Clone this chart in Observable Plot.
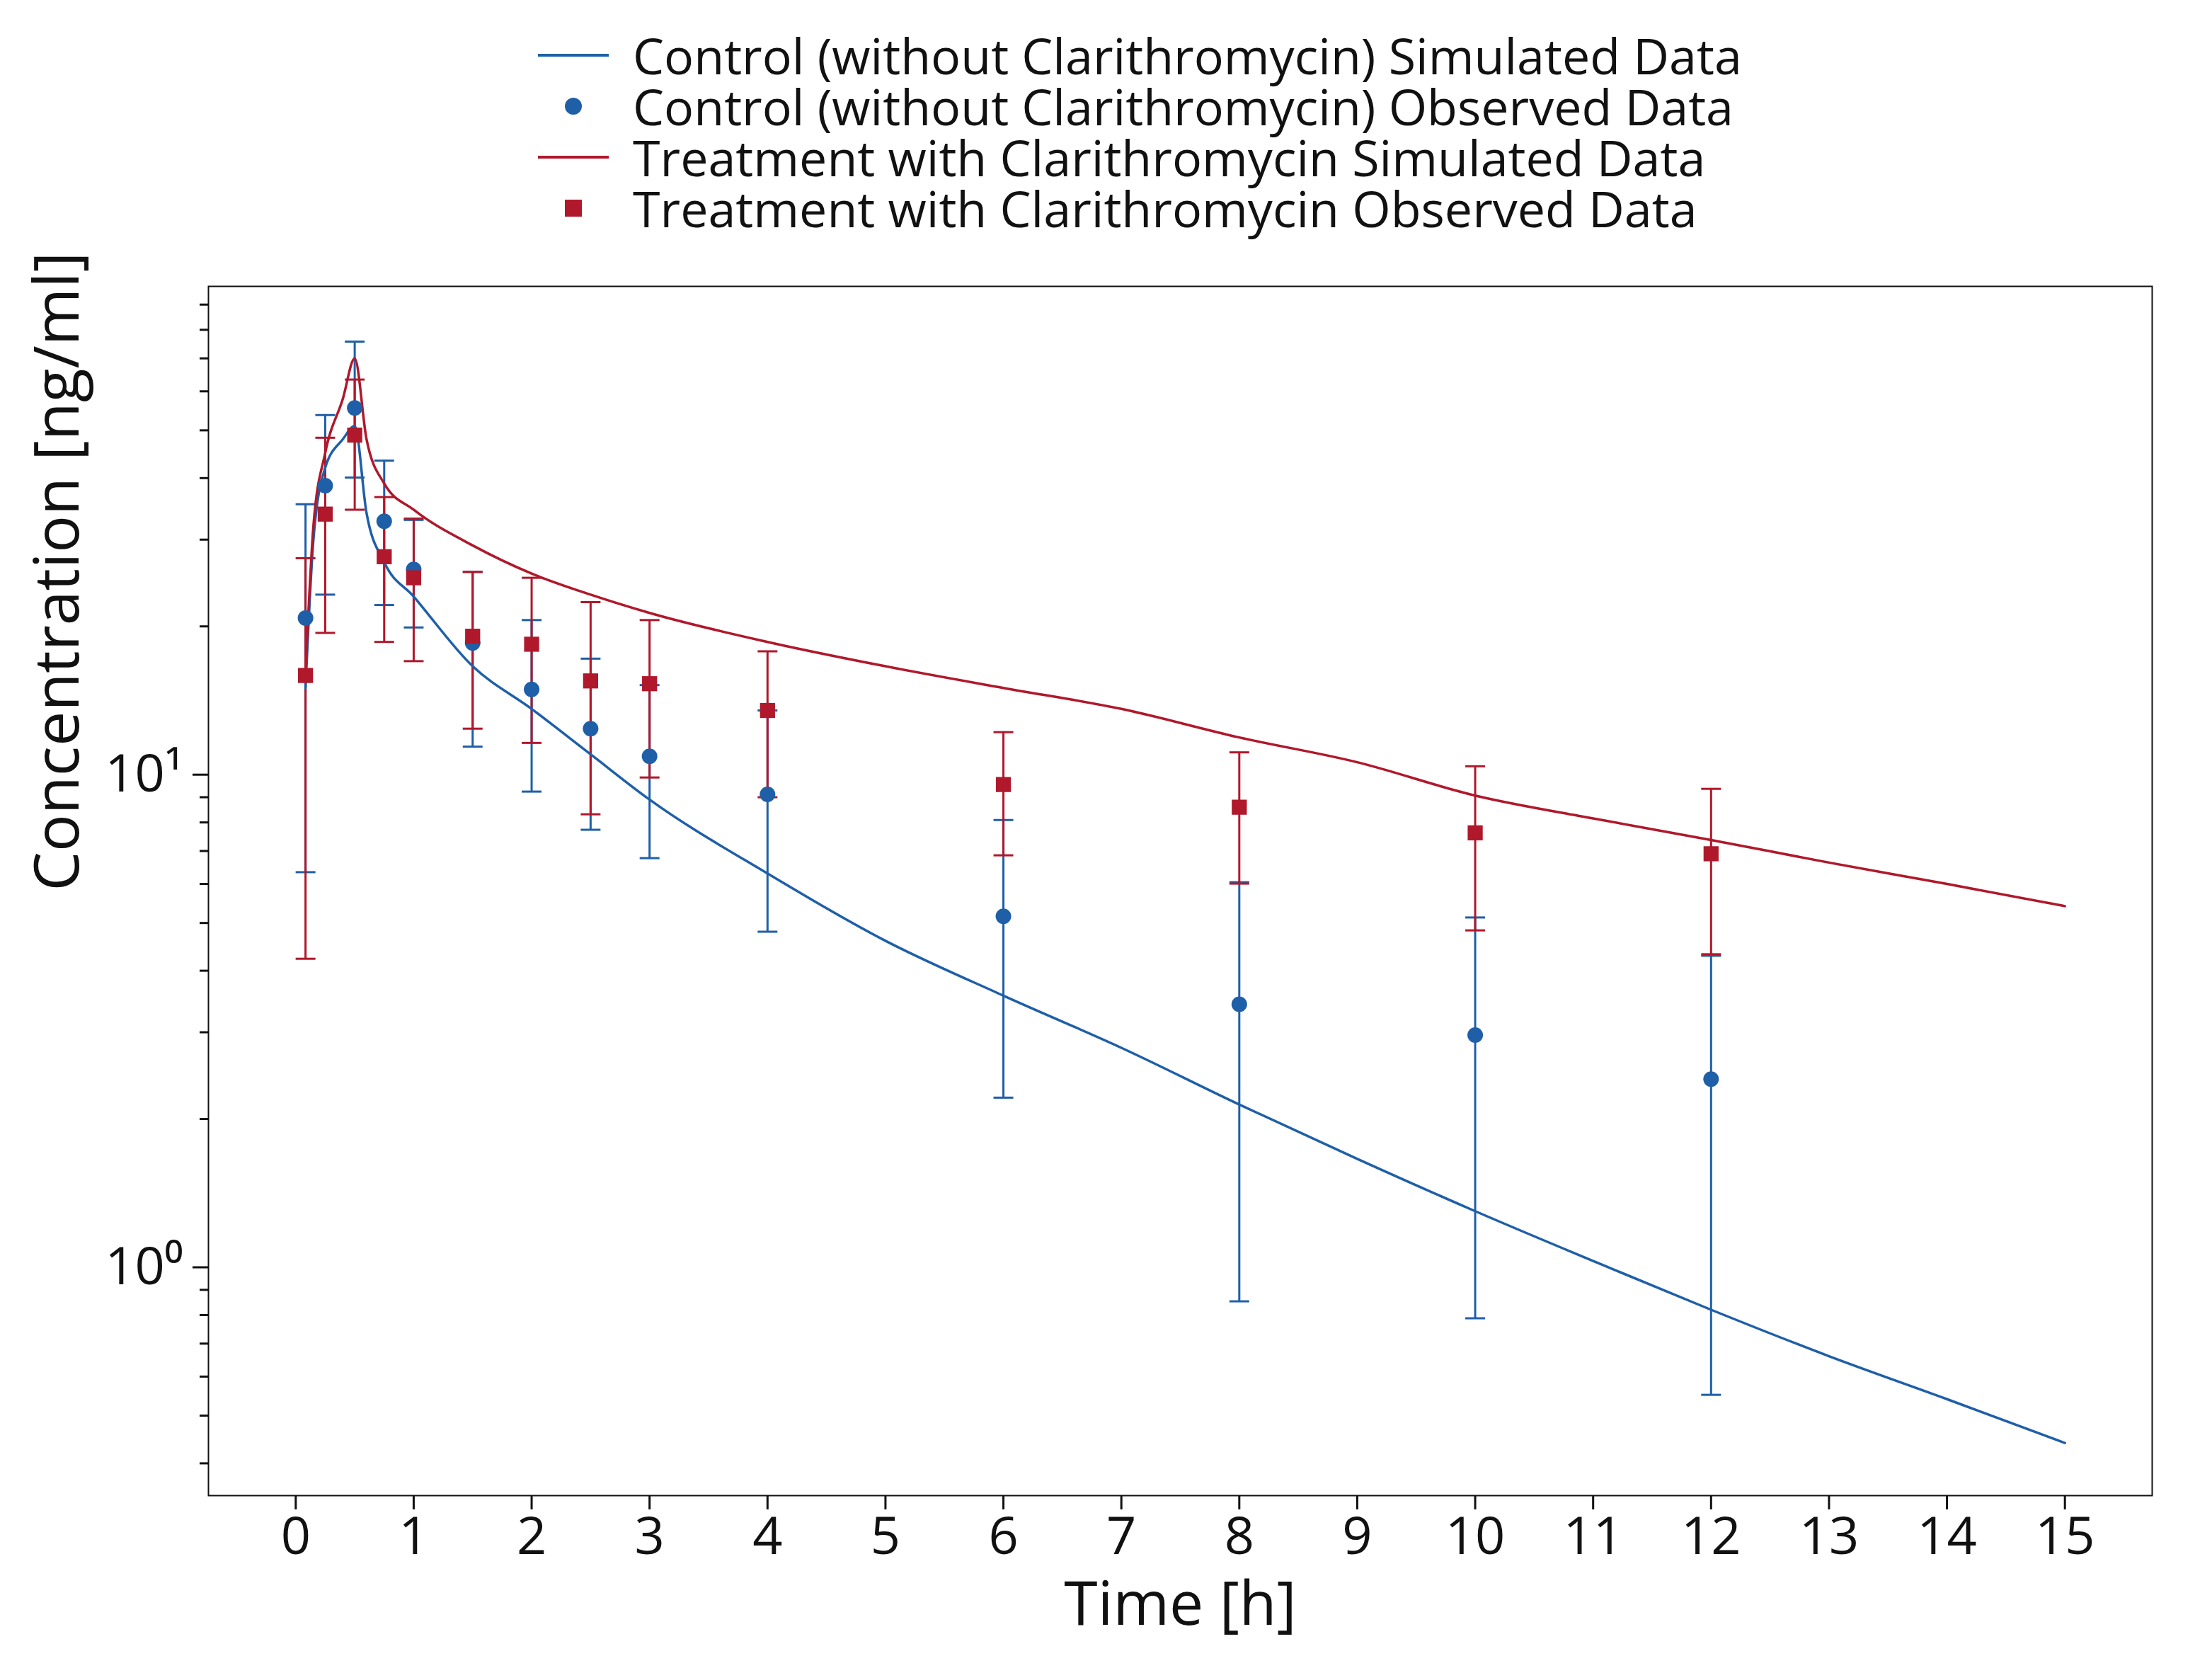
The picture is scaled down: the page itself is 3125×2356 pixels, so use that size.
<!DOCTYPE html>
<html><head><meta charset="utf-8">
<script src="https://cdn.jsdelivr.net/npm/d3@7"></script>
<script src="https://cdn.jsdelivr.net/npm/@observablehq/plot@0.6"></script>
<style>
body{margin:0;background:#fff;font-family:"Open Sans";}
#legend{height:360px;box-sizing:border-box;padding-top:42px;padding-left:760px;font-size:70px;line-height:72px;color:#111;}
.row{display:flex;align-items:center;height:72px;}
.sw{width:100px;height:72px;margin-right:34px;display:flex;align-items:center;justify-content:center;}
</style></head><body>
<div id="legend"></div>
<div id="vis"></div>
<script>
const times = [0.083,0.25,0.5,0.75,1,1.5,2,2.5,3,4,6,8,10,12]
const ctrlObs = [20.8,38.6,55.5,32.7,26.1,18.5,14.9,12.4,10.9,9.12,5.16,3.42,2.96,2.41]
const ctrlHi = [35.4,53.7,75.7,43.4,32.9,25.8,20.6,17.2,15.2,13.5,8.09,6.05,5.13,4.29]
const ctrlLo = [6.34,23.2,40.1,22.1,19.9,11.4,9.24,7.73,6.77,4.80,2.21,0.853,0.788,0.551]
const trtObs = [15.9,33.8,48.9,27.7,25.1,19.1,18.4,15.5,15.3,13.5,9.55,8.59,7.62,6.91]
const trtHi = [27.5,48.3,63.4,36.6,33.1,25.8,25.1,22.4,20.6,17.8,12.2,11.1,10.4,9.36]
const trtLo = [4.23,19.4,34.5,18.6,17.0,12.4,11.6,8.31,9.87,9.0,6.86,6.01,4.83,4.32]
const simT = [0.083,0.15,0.25,0.4,0.5,0.6,0.75,1,1.5,2,2.5,3,4,5,6,7,8,9,10,11,12,13,14,15]
const ctrlSim = [15,30,42,48,51,34,27,23,16.6,13.6,11,8.9,6.3,4.6,3.56,2.79,2.14,1.66,1.30,1.03,0.82,0.66,0.54,0.44]
const trtSim = [16,32,45,58,70,48,39,34.5,29.2,25.6,23.2,21.3,18.6,16.6,15.0,13.6,11.9,10.6,9.07,8.15,7.37,6.63,6.0,5.41]
const minorTicks = [0.4,0.5,0.6,0.7,0.8,0.9,2,3,4,5,6,7,8,9,20,30,40,50,60,70,80,90]

const blue = '#1f5fa8', red = '#b0182b'
const obs = (v, hi, lo) => times.map((t, i) => ({t, v: v[i], hi: hi[i], lo: lo[i]}))
const ctrl = obs(ctrlObs, ctrlHi, ctrlLo), trt = obs(trtObs, trtHi, trtLo)
const sim = v => simT.map((t, i) => ({t, v: v[i]}))
const cap = {draw(ctx, size) { const w = Math.sqrt(size / Math.PI); ctx.moveTo(-w, 0); ctx.lineTo(w, 0) }}

const errMarks = (d, c) => [
  Plot.ruleX(d, {x: 't', y1: 'lo', y2: 'hi', stroke: c, strokeWidth: 3}),
  Plot.dot(d, {x: 't', y: 'hi', symbol: cap, r: 14, stroke: c, strokeWidth: 3}),
  Plot.dot(d, {x: 't', y: 'lo', symbol: cap, r: 14, stroke: c, strokeWidth: 3})
]

const chart = Plot.plot({
  width: 3125, height: 1996,
  marginLeft: 294, marginRight: 85, marginTop: 44, marginBottom: 244,
  x: {domain: [-0.74, 15.74]},
  y: {type: 'log', domain: [0.344, 98]},
  style: {fontFamily: 'Open Sans', fontSize: 74, color: '#111', background: '#fff'},
  marks: [
    Plot.frame({stroke: '#111', strokeWidth: 2}),
    Plot.axisX({ticks: d3.range(0, 16), tickSize: 20, tickPadding: 10, tickFormat: d => d, label: null, strokeWidth: 3}),
    Plot.axisY({ticks: [1, 10], tickSize: 22, tickPadding: 14, tickFormat: d => d === 1 ? '10⁰' : '10¹', label: null, strokeWidth: 3}),
    Plot.axisY({ticks: minorTicks, tickSize: 12, tickFormat: () => '', label: null, strokeWidth: 3}),
    Plot.text(['Time [h]'], {frameAnchor: 'bottom', dy: 182, fontSize: 86, text: d => d}),
    Plot.text(['Concentration [ng/ml]'], {frameAnchor: 'left', dx: -212, rotate: -90, fontSize: 88, text: d => d}),
    ...errMarks(ctrl, blue),
    ...errMarks(trt, red),
    Plot.line(sim(ctrlSim), {x: 't', y: 'v', stroke: blue, strokeWidth: 3.5, curve: 'monotone-x'}),
    Plot.line(sim(trtSim), {x: 't', y: 'v', stroke: red, strokeWidth: 3.5, curve: 'monotone-x'}),
    Plot.dot(ctrl, {x: 't', y: 'v', r: 11, fill: blue}),
    Plot.dot(trt, {x: 't', y: 'v', symbol: 'square', r: 12, fill: red})
  ]
})
d3.select('#vis').append(() => chart)

const items = [
  ['line', blue, 'Control (without Clarithromycin) Simulated Data'],
  ['circle', blue, 'Control (without Clarithromycin) Observed Data'],
  ['line', red, 'Treatment with Clarithromycin Simulated Data'],
  ['square', red, 'Treatment with Clarithromycin Observed Data']
]
const lg = d3.select('#legend')
items.forEach(([k, c, t]) => {
  const r = lg.append('div').attr('class', 'row')
  const s = r.append('div').attr('class', 'sw')
  if (k === 'line') s.append('div').style('width', '100px').style('height', '4px').style('background', c)
  else s.append('div').style('width', '24px').style('height', '24px').style('background', c).style('border-radius', k === 'circle' ? '50%' : '0')
  r.append('span').text(t)
})
</script>
</body></html>
